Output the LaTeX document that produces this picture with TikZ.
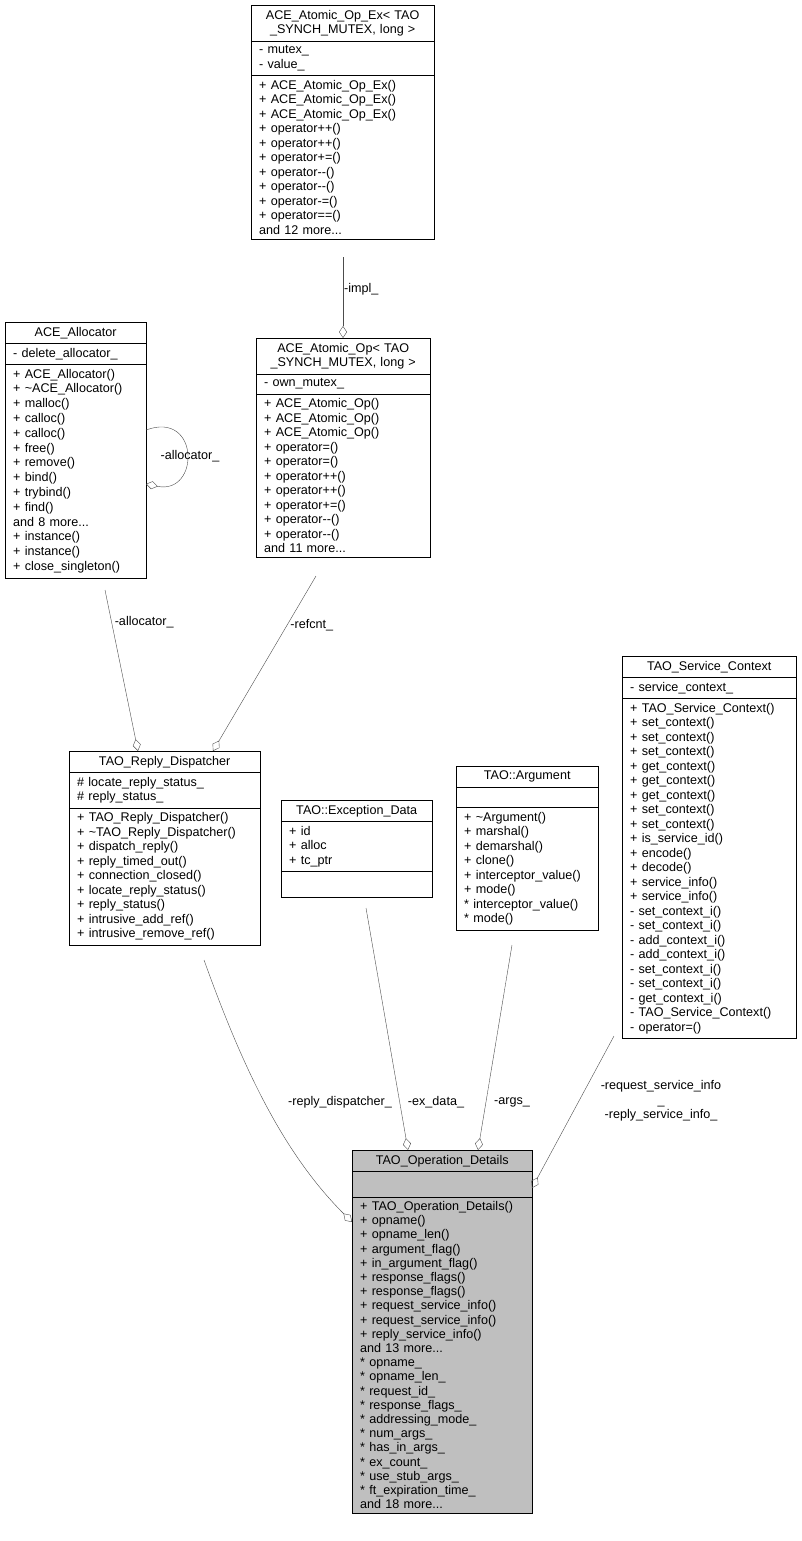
\documentclass[tikz,border=0pt]{standalone}
\usepackage{fontspec}
\setmainfont{Liberation Sans}
\usetikzlibrary{shapes.multipart,arrows.meta}
\newcommand{\ttl}[1]{\makebox[\linewidth][c]{#1}}
\begin{document}
\begin{tikzpicture}[x=1pt,y=-1pt,
 cls/.style={draw=black,fill=white,rectangle split,rectangle split parts=3,anchor=north west,
   align=left,inner xsep=8pt,inner ysep=4.5pt,font=\fontsize{12.6}{#1}\selectfont},
 cls/.default=14.5,
 agg/.style={draw=black!70,{Diamond[open,length=12pt,width=8pt]}-},
 lbl/.style={font=\fontsize{12.6}{14.5}\selectfont,inner sep=1pt}]
\useasboundingbox (0,0) rectangle (801,1541);
\node[cls,text width=167pt] (opex) at (251,5) {\ttl{ACE\_Atomic\_Op\_Ex< TAO}\\\ttl{\_SYNCH\_MUTEX, long >}
\nodepart{two}- mutex\_\\- value\_
\nodepart{three}+ ACE\_Atomic\_Op\_Ex()\\+ ACE\_Atomic\_Op\_Ex()\\+ ACE\_Atomic\_Op\_Ex()\\+ operator++()\\+ operator++()\\+ operator+=()\\+ operator-{}-()\\+ operator-{}-()\\+ operator-=()\\+ operator==()\\and 12 more...};
\node[cls=14.8,text width=125pt] (alloc) at (5,322) {\ttl{ACE\_Allocator}
\nodepart{two}- delete\_allocator\_
\nodepart{three}+ ACE\_Allocator()\\+ \textasciitilde ACE\_Allocator()\\+ malloc()\\+ calloc()\\+ calloc()\\+ free()\\+ remove()\\+ bind()\\+ trybind()\\+ find()\\and 8 more...\\+ instance()\\+ instance()\\+ close\_singleton()};
\node[cls,text width=158pt] (op) at (256,338) {\ttl{ACE\_Atomic\_Op< TAO}\\\ttl{\_SYNCH\_MUTEX, long >}
\nodepart{two}- own\_mutex\_
\nodepart{three}+ ACE\_Atomic\_Op()\\+ ACE\_Atomic\_Op()\\+ ACE\_Atomic\_Op()\\+ operator=()\\+ operator=()\\+ operator++()\\+ operator++()\\+ operator+=()\\+ operator-{}-()\\+ operator-{}-()\\and 11 more...};
\node[cls,text width=158pt] (sc) at (622,656) {\ttl{TAO\_Service\_Context}
\nodepart{two}- service\_context\_
\nodepart{three}+ TAO\_Service\_Context()\\+ set\_context()\\+ set\_context()\\+ set\_context()\\+ get\_context()\\+ get\_context()\\+ get\_context()\\+ set\_context()\\+ set\_context()\\+ is\_service\_id()\\+ encode()\\+ decode()\\+ service\_info()\\+ service\_info()\\- set\_context\_i()\\- set\_context\_i()\\- add\_context\_i()\\- add\_context\_i()\\- set\_context\_i()\\- set\_context\_i()\\- get\_context\_i()\\- TAO\_Service\_Context()\\- operator=()};
\node[cls,text width=175pt] (rd) at (69,751) {\ttl{TAO\_Reply\_Dispatcher}
\nodepart{two}\# locate\_reply\_status\_\\\# reply\_status\_
\nodepart{three}+ TAO\_Reply\_Dispatcher()\\+ \textasciitilde TAO\_Reply\_Dispatcher()\\+ dispatch\_reply()\\+ reply\_timed\_out()\\+ connection\_closed()\\+ locate\_reply\_status()\\+ reply\_status()\\+ intrusive\_add\_ref()\\+ intrusive\_remove\_ref()};
\node[cls,text width=135pt] (ex) at (281,800) {\ttl{TAO::Exception\_Data}
\nodepart{two}+ id\\+ alloc\\+ tc\_ptr
\nodepart{three}\rule{0pt}{16pt}};
\node[cls,text width=126pt] (arg) at (456,766) {\ttl{TAO::Argument}
\nodepart{two}\rule{0pt}{11pt}
\nodepart{three}+ \textasciitilde Argument()\\+ marshal()\\+ demarshal()\\+ clone()\\+ interceptor\_value()\\+ mode()\\{}* interceptor\_value()\\{}* mode()};
\node[cls=14.2,text width=164pt,fill=black!25] (od) at (352,1150) {\ttl{TAO\_Operation\_Details}
\nodepart{two}\rule{0pt}{16pt}
\nodepart{three}+ TAO\_Operation\_Details()\\+ opname()\\+ opname\_len()\\+ argument\_flag()\\+ in\_argument\_flag()\\+ response\_flags()\\+ response\_flags()\\+ request\_service\_info()\\+ request\_service\_info()\\+ reply\_service\_info()\\and 13 more...\\{}* opname\_\\{}* opname\_len\_\\{}* request\_id\_\\{}* response\_flags\_\\{}* addressing\_mode\_\\{}* num\_args\_\\{}* has\_in\_args\_\\{}* ex\_count\_\\{}* use\_stub\_args\_\\{}* ft\_expiration\_time\_\\and 18 more...};
\coordinate (opd) at (343,338);
\coordinate (ops) at (343,257);
\draw[agg] (opd) -- (ops) node[lbl,pos=0.6,right] {-impl\_};
\draw[agg] (146,484) .. controls (200,495) and (200,410) .. (146,430);
\node[lbl] (al1) at (190,456) {-allocator\_};
\draw[agg] (138,751) -- (105,590) node[lbl,pos=0.8,right=2pt] {-allocator\_};
\draw[agg] (213,751) -- (316,576) node[lbl,pos=0.72,right=2pt] {-refcnt\_};
\draw[agg] (352,1222) .. controls (280,1150) and (240,1060) .. (204,960);
\node[lbl] (l1) at (340,1102) {-reply\_dispatcher\_};
\draw[agg] (408,1150) -- (366,908);
\node[lbl] (l2) at (436,1102) {-ex\_data\_};
\draw[agg] (478,1150) -- (512,945);
\node[lbl] (l3) at (512,1102) {-args\_};
\draw[agg] (532,1188) -- (614,1036);
\node[lbl,align=center] (l4) at (661,1101) {-request\_service\_info\\\_\\-reply\_service\_info\_};
\end{tikzpicture}
\end{document}
